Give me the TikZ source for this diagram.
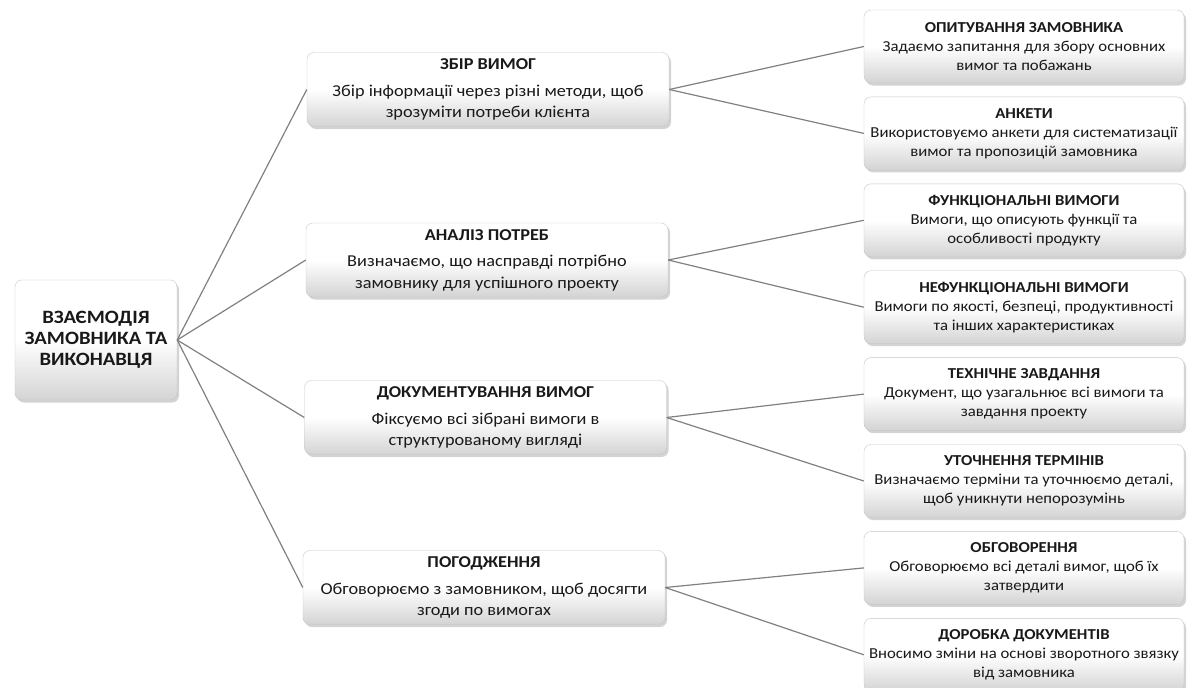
\documentclass[tikz,border=0pt]{standalone}
\usepackage{fontspec}
\setmainfont{Carlito}
\newfontfamily\boxfont[FakeStretch=1.1]{Carlito}
\usetikzlibrary{positioning,shadows}

\tikzset{
  card/.style={draw=black!22, rounded corners=7pt, top color=white, bottom color=black!17, middle color=white,
    drop shadow={shadow xshift=2pt, shadow yshift=-2.5pt, opacity=0.35}, align=center, inner sep=2pt, text=black!90},
  rootbox/.style={card, minimum width=162pt, minimum height=120pt, font=\boxfont\fontsize{18.8}{21}\selectfont\bfseries,
    execute at begin node={\rule{0pt}{25pt}}},
  stepbox/.style={card, minimum width=362pt, minimum height=74pt, font=\boxfont\fontsize{16.6}{21.5}\selectfont,
    execute at begin node={\rule{0pt}{18pt}}},
  leafbox/.style={card, minimum width=320pt, minimum height=73pt, font=\boxfont\fontsize{15.2}{19}\selectfont,
    execute at begin node={\rule{0pt}{15pt}}},
  link/.style={draw=black!50, line width=1.2pt},
}

\begin{document}
\begin{tikzpicture}[x=1pt, y=-1pt]
        \useasboundingbox (0,0) rectangle (1187,688);

        % Nodes
        \node (root) [rootbox] at (96,340) {ВЗАЄМОДІЯ\\ЗАМОВНИКА ТА\\ВИКОНАВЦЯ};

        \node (gather) [stepbox] at (488,89.5) {\textbf{ЗБІР ВИМОГ}\\[5pt]Збір інформації через різні методи, щоб\\зрозуміти потреби клієнта};
        \node (analysis) [stepbox] at (487,260) {\textbf{АНАЛІЗ ПОТРЕБ}\\[5pt]Визначаємо, що насправді потрібно\\замовнику для успішного проекту};
        \node (docs) [stepbox] at (485.5,417.5) {\textbf{ДОКУМЕНТУВАННЯ ВИМОГ}\\[5pt]Фіксуємо всі зібрані вимоги в\\структурованому вигляді};
        \node (agree) [stepbox] at (484,587.5) {\textbf{ПОГОДЖЕННЯ}\\[5pt]Обговорюємо з замовником, щоб досягти\\згоди по вимогах};

        \node (survey) [leafbox] at (1024,46.5) {\textbf{ОПИТУВАННЯ ЗАМОВНИКА}\\Задаємо запитання для збору основних\\вимог та побажань};
        \node (forms) [leafbox, below=13.5pt of survey] {\textbf{АНКЕТИ}\\Використовуємо анкети для систематизації\\вимог та пропозицій замовника};
        \node (func) [leafbox, below=13.5pt of forms] {\textbf{ФУНКЦІОНАЛЬНІ ВИМОГИ}\\Вимоги, що описують функції та\\особливості продукту};
        \node (nonfunc) [leafbox, below=13.5pt of func] {\textbf{НЕФУНКЦІОНАЛЬНІ ВИМОГИ}\\Вимоги по якості, безпеці, продуктивності\\та інших характеристиках};
        \node (spec) [leafbox, below=13.5pt of nonfunc] {\textbf{ТЕХНІЧНЕ ЗАВДАННЯ}\\Документ, що узагальнює всі вимоги та\\завдання проекту};
        \node (terms) [leafbox, below=13.5pt of spec] {\textbf{УТОЧНЕННЯ ТЕРМІНІВ}\\Визначаємо терміни та уточнюємо деталі,\\щоб уникнути непорозумінь};
        \node (discuss) [leafbox, below=13.5pt of terms] {\textbf{ОБГОВОРЕННЯ}\\Обговорюємо всі деталі вимог, щоб їх\\затвердити};
        \node (revise) [leafbox, below=13.5pt of discuss] {\textbf{ДОРОБКА ДОКУМЕНТІВ}\\Вносимо зміни на основі зворотного звязку\\від замовника};

        % Connectors
        \draw [link] (root.east) -- (gather.west);
        \draw [link] (root.east) -- (analysis.west);
        \draw [link] (root.east) -- (docs.west);
        \draw [link] (root.east) -- (agree.west);
        \draw [link] (gather.east) -- (survey.west);
        \draw [link] (gather.east) -- (forms.west);
        \draw [link] (analysis.east) -- (func.west);
        \draw [link] (analysis.east) -- (nonfunc.west);
        \draw [link] (docs.east) -- (spec.west);
        \draw [link] (docs.east) -- (terms.west);
        \draw [link] (agree.east) -- (discuss.west);
        \draw [link] (agree.east) -- (revise.west);

\end{tikzpicture}
\end{document}
